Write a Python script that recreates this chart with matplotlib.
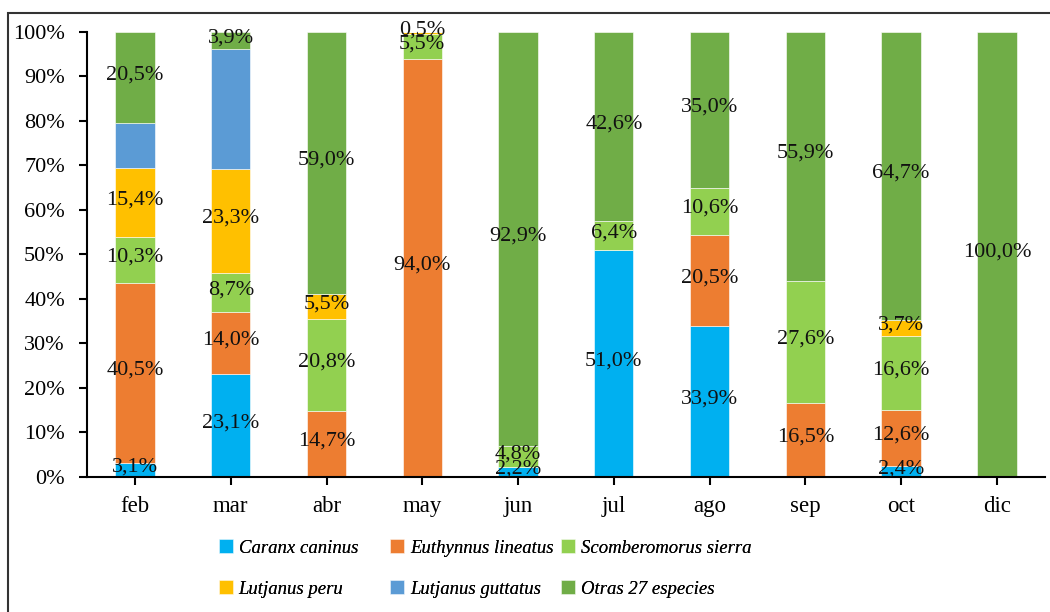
import numpy as np
import matplotlib
matplotlib.use("Agg")
import matplotlib.pyplot as plt
from matplotlib.patches import Rectangle

plt.rcParams['font.family'] = ['Liberation Serif', 'DejaVu Serif']

meses = ['feb', 'mar', 'abr', 'may', 'jun', 'jul', 'ago', 'sep', 'oct', 'dic']

especies = ['Caranx caninus', 'Euthynnus lineatus', 'Scomberomorus sierra',
            'Lutjanus peru', 'Lutjanus guttatus', 'Otras 27 especies']
colores = ['#00B0F0', '#ED7D31', '#92D050', '#FFC000', '#5B9BD5', '#70AD47']

caranx = [3.1, 23.1, 0, 0, 2.2, 51.0, 33.9, 0, 2.4, 0]
euthynnus = [40.5, 14.0, 14.7, 94.0, 0, 0, 20.5, 16.5, 12.6, 0]
sierra = [10.3, 8.7, 20.8, 5.5, 4.8, 6.4, 10.6, 27.6, 16.6, 0]
peru = [15.4, 23.3, 5.5, 0.5, 0, 0, 0, 0, 3.7, 0]
guttatus = [10.2, 27.0, 0, 0, 0, 0, 0, 0, 0, 0]
otras = [20.5, 3.9, 59.0, 0, 92.9, 42.6, 35.0, 55.9, 64.7, 100.0]

series = [caranx, euthynnus, sierra, peru, guttatus, otras]
# en el original no se muestran etiquetas para L. guttatus
con_etiqueta = [True, True, True, True, False, True]

fig = plt.figure(figsize=(10.5, 6.12), dpi=100)
ax = fig.add_axes([0.083, 0.221, 0.912, 0.727])

x = np.arange(len(meses))
base = np.zeros(len(meses))
handles = []
for vals, nombre, col, etq in zip(series, especies, colores, con_etiqueta):
    vals = np.array(vals)
    b = ax.bar(x, vals, 0.41, bottom=base, color=col, edgecolor='#ffffff',
               linewidth=0.4, label=nombre)
    handles.append(b)
    if etq:
        for xi, v, b0 in zip(x, vals, base):
            if v > 0:
                ax.text(xi, b0 + v / 2 + 0.6, f'{v:.1f}%'.replace('.', ','),
                        ha='center', va='center', fontsize=16, color='#111111')
    base += vals

ax.set_xlim(-0.5, len(meses) - 0.5)
ax.set_ylim(0, 100)
ax.set_yticks(np.arange(0, 101, 10))
ax.set_yticklabels([f'{v}%' for v in range(0, 101, 10)], fontsize=16)
ax.set_xticks(x)
ax.set_xticklabels(meses, fontsize=16.5)
ax.tick_params(axis='y', direction='out', length=6, width=1.5, pad=10)
ax.tick_params(axis='x', direction='out', length=6, width=1.5, pad=8)
ax.spines['top'].set_visible(False)
ax.spines['right'].set_visible(False)
ax.spines['left'].set_linewidth(1.5)
ax.spines['bottom'].set_linewidth(1.5)

# leyenda: tres columnas colocadas por separado
columnas = [(0.2085, [0, 3]), (0.3715, [1, 4]), (0.5345, [2, 5])]
for xpos, idx in columnas:
    lg = fig.legend([handles[i] for i in idx], [especies[i] for i in idx],
                    loc='center left', bbox_to_anchor=(xpos, 0.071),
                    frameon=False, prop={'style': 'italic', 'size': 13.5},
                    handlelength=0.75, handleheight=0.75, handletextpad=0.3,
                    labelspacing=1.25, borderpad=0, borderaxespad=0)
    fig.add_artist(lg)

# marco exterior (solo se ven los bordes superior e izquierdo)
fig.patches.append(Rectangle((0.008, -0.05), 1.1, 1.029, transform=fig.transFigure,
                             fill=False, edgecolor='#333333', linewidth=1.5))

fig.savefig('out.png', dpi=100)
